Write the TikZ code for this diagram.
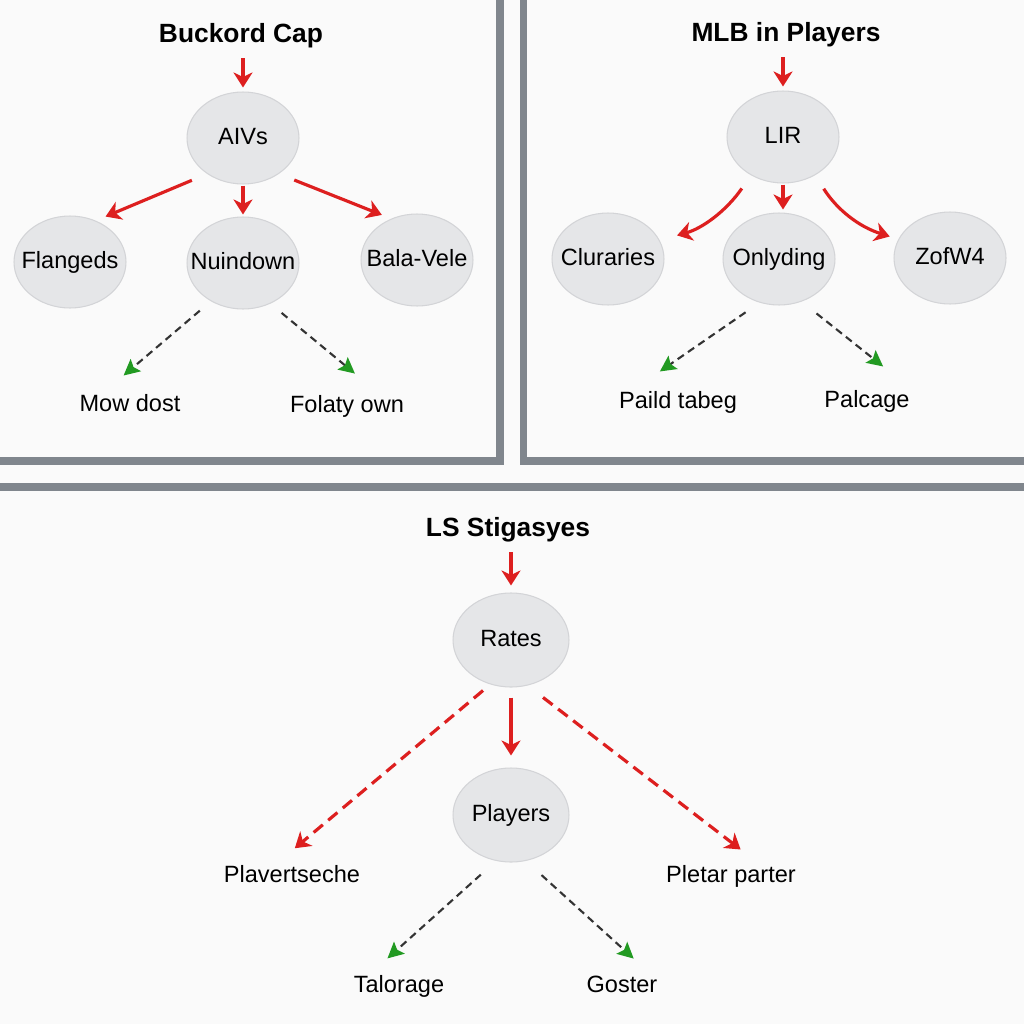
\documentclass[tikz,border=0pt]{standalone}
\usepackage{fontspec}
\setmainfont{Liberation Sans}
\usetikzlibrary{arrows.meta,shapes.geometric}

\definecolor{framegray}{HTML}{80868D}
\definecolor{bubblefill}{HTML}{E5E6E8}
\definecolor{bubbleline}{HTML}{D3D4D7}
\definecolor{flowred}{HTML}{DD1F1F}
\definecolor{flowgreen}{HTML}{229A22}
\definecolor{paper}{HTML}{FAFAFA}

\newcommand{\bubtext}[1]{\makebox[0pt]{#1}}

\tikzset{
	bubble/.style={ellipse, fill=bubblefill, draw=bubbleline, line width=0.6pt,
		minimum width=2.24cm, minimum height=1.84cm, inner sep=0pt,
		text height=0.72em, text depth=0pt, font=\fontsize{13.4}{16}\selectfont},
	heading/.style={anchor=base, inner sep=2pt, font=\fontsize{15}{18}\selectfont\bfseries},
	leaf/.style={anchor=base, inner sep=2pt, font=\fontsize{13.4}{16}\selectfont},
	redflow/.style={draw=flowred, line width=1.8pt,
		-{Stealth[length=0.3cm, width=0.38cm, inset=0.09cm]}},
	reddash/.style={redflow, dash pattern=on 0.24cm off 0.14cm},
	greendash/.style={draw=black!80, line width=1.2pt, dash pattern=on 0.15cm off 0.1cm,
		-{Stealth[length=0.32cm, width=0.32cm, inset=0.06cm, color=flowgreen]}},
	frame/.style={draw=framegray, line width=4pt},
}

\begin{document}
\begin{tikzpicture}[x=0.02cm, y=-0.02cm]
	\useasboundingbox (0,0) rectangle (1024,1024);
	\fill[paper] (0,0) rectangle (1024,1024);
	\clip (0,0) rectangle (1024,1024);

	%panel frames
	\draw[frame] (500,-10) -- (500,461) -- (-10,461);
	\draw[frame] (523.5,-10) -- (523.5,461) -- (1034,461);
	\draw[frame, line width=4.5pt] (-10,487) -- (1034,487);

	%left panel
	\node[heading] (ttlA) at (241,43) {Buckord Cap};
	\node[bubble] (aivs) at (243,138) {\bubtext{AIVs}};
	\node[bubble] (flangeds) at (70,262) {\bubtext{Flangeds}};
	\node[bubble] (nuindown) at (243,263) {\bubtext{Nuindown}};
	\node[bubble] (balavele) at (417,260) {\bubtext{Bala-Vele}};
	\node[leaf] (mowdost) at (130,411) {Mow dost};
	\node[leaf] (folaty) at (347,412) {Folaty own};

	\draw[redflow, shorten <=0.12cm, shorten >=0.08cm] (ttlA.south -| aivs.north) -- (aivs.north);
	\draw[redflow, shorten <=0.33cm, shorten >=0.21cm] (aivs.225) -- (flangeds.58);
	\draw[redflow, shorten <=0.02cm, shorten >=0.04cm] (aivs) -- (nuindown);
	\draw[redflow, shorten <=0.33cm, shorten >=0.2cm] (aivs.315) -- (balavele.122);
	\draw[greendash, shorten <=0.29cm, shorten >=0.45cm] (nuindown.230) -- (mowdost.152);
	\draw[greendash, shorten <=0.29cm, shorten >=0.55cm] (nuindown.304) -- (folaty.27);

	%right panel
	\node[heading] (ttlB) at (786,42) {MLB in Players};
	\node[bubble] (lir) at (783,137) {\bubtext{LIR}};
	\node[bubble] (clur) at (608,259) {\bubtext{Cluraries}};
	\node[bubble] (only) at (779,259) {\bubtext{Onlyding}};
	\node[bubble] (zofw) at (950,258) {\bubtext{ZofW4}};
	\node[leaf] (paild) at (678,408) {Paild tabeg};
	\node[leaf] (palcage) at (867,407) {Palcage};

	\draw[redflow, shorten <=0.12cm, shorten >=0.08cm] (ttlB.south -| lir.north) -- (lir.north);
	\draw[redflow, shorten <=0.32cm, shorten >=0.36cm] (lir.230) to[bend left=20] (clur.20);
	\draw[redflow, shorten <=0.02cm, shorten >=0.06cm] (lir.south) -- (lir.south |- only.north);
	\draw[redflow, shorten <=0.32cm, shorten >=0.18cm] (lir.310) to[bend right=20] (zofw.160);
	\draw[greendash, shorten <=0.34cm, shorten >=0.55cm] (only.246) -- (paild.160);
	\draw[greendash, shorten <=0.38cm, shorten >=0.63cm] (only.298) -- (palcage.20);

	%bottom panel
	\node[heading] (ttlC) at (508,536) {LS Stigasyes};
	\node[bubble, minimum width=2.32cm, minimum height=1.88cm] (rates) at (511,640) {\bubtext{Rates}};
	\node[bubble, minimum width=2.32cm, minimum height=1.88cm] (players) at (511,815) {\bubtext{Players}};
	\node[leaf] (plav) at (292,882) {Plavertseche};
	\node[leaf] (pletar) at (731,882) {Pletar parter};
	\node[leaf] (talor) at (399,992) {Talorage};
	\node[leaf] (goster) at (622,992) {Goster};

	\draw[redflow, shorten <=0.14cm, shorten >=0.14cm] (ttlC.south -| rates.north) -- (rates.north);
	\draw[redflow, shorten <=0.2cm, shorten >=0.24cm] (rates) -- (players);
	\draw[reddash, shorten <=0.19cm, shorten >=0.4cm] (rates.245) -- (plav.135);
	\draw[reddash, shorten <=0.39cm, shorten >=0.38cm] (rates.290) -- (pletar.31);
	\draw[greendash, shorten <=0.41cm, shorten >=0.38cm] (players.252) -- (talor.150);
	\draw[greendash, shorten <=0.42cm, shorten >=0.39cm] (players.288) -- (goster.25);
\end{tikzpicture}
\end{document}
